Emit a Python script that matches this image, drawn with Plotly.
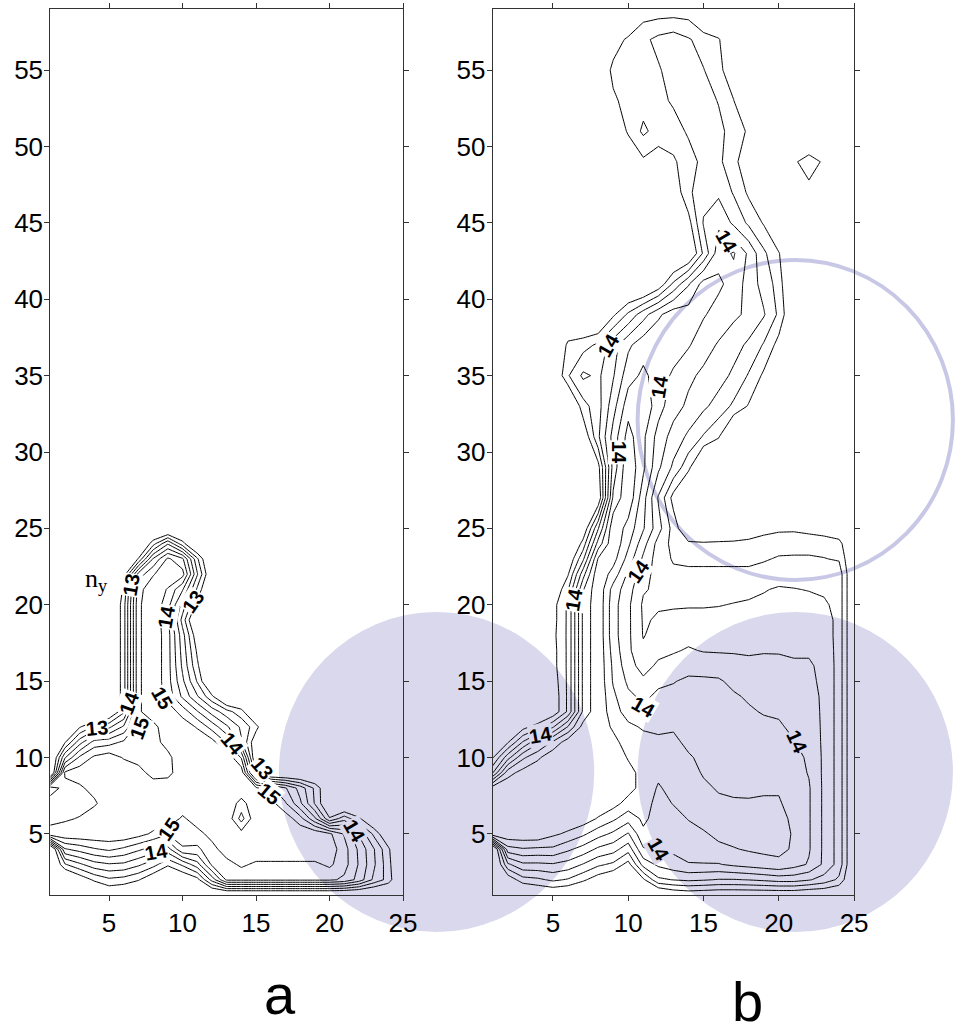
import plotly.graph_objects as go

# ---------------- data ----------------
x_cells = list(range(1, 26))
x_ticks = [5, 10, 15, 20, 25]
y_ticks = [5, 10, 15, 20, 25, 30, 35, 40, 45, 50, 55]
panel_labels = ["a", "b"]
side_label = "n<sub>y</sub>"
level_start, level_end, level_step = 12.0, 15.0, 0.5

# panel a rows (y = 1..26, then 59)
y_a = list(range(1, 27)) + [59]
A01 = [11,11,11,11,11.4,11.3,11,11,11,11,11,11,11,11,11,11,11,11,11,11,11,11,11,11,11]
A02 = [11,11,11.6,12.1,12.4,12.3,12.05,11.5,11.0,11.4,11.8,13.2,14.6,14.6,14.6,14.6,14.6,14.6,14.6,14.6,14.4,13.8,12.9,12.3,11]
A03 = [11,12.45,12.9,13.3,13.45,13.4,13.1,12.7,12.1,12.6,13.3,14.6,14.8,15.1,14.9,14.9,14.9,14.9,14.9,15.1,14.7,13.95,13.1,12.2,11]
A04 = [11,13.95,14.2,14.45,14.6,14.4,14.1,13.8,13.3,14.45,14.4,14.8,15.3,15.4,15.4,15.4,15.4,15.4,15.4,15.3,14.7,13.9,13.05,12.1,11]
A05 = [15.4,15.4,15.4,15.4,15.4,15.4,15.2,14.9,14.55,14.7,14.8,15.2,15.4,15.2,15.4,15.4,15.4,15.4,15.4,15.1,14.45,13.45,12.4,11.4,11]
A06 = [14.7,14.9,15.05,15.4,15.4,15.4,15.4,15.4,15.4,14.9,15.3,15.4,15.4,14.3,15.4,15.4,15.3,14.7,13.6,12.05,12.8,12.1,11.3,11,11]
A07 = [14.7,14.7,14.7,14.9,15.4,15.4,15.4,15.4,15.4,15.4,15.4,15.4,15.4,14.8,15.4,15.2,14.55,13.6,12.45,11.3,11,11,11,11,11]
A08 = [15.3,14.8,14.9,15.2,15.4,15.4,15.4,15.3,15.3,15.4,15.4,15.4,15.4,15.4,15.1,14.6,14.05,13.3,12.4,11.3,11,11,11,11,11]
A09 = [11,15.1,15.3,15.4,15.4,15.4,15.2,14.8,14.85,15.3,15.4,15.4,15.4,15.35,12.2,11,11,11,11,11,11,11,11,11,11]
A10 = [11,13.45,14.6,15.1,15.3,14.95,14.8,14.8,14.85,15.4,15.4,15.4,15.4,14.45,11.3,11,11,11,11,11,11,11,11,11,11]
A11 = [11,11.95,13.3,14.2,14.3,14.6,14.8,14.8,15.2,15.4,15.4,15.2,14.45,13.05,11.5,11,11,11,11,11,11,11,11,11,11]
A12 = [11,11,11.95,12.6,12.9,13.6,14.8,14.8,15.4,15.3,14.95,14.3,13.6,12.9,12.2,11,11,11,11,11,11,11,11,11,11]
A13 = [11,11,11,11,11.3,12.4,14.9,15.4,15.3,14.8,14.05,13.3,12.7,12.2,11,11,11,11,11,11,11,11,11,11,11]
A14 = [11,11,11,11,11,12.3,14.9,15.4,14.8,13.9,13.05,12.1,11,11,11,11,11,11,11,11,11,11,11,11,11]
A15 = [11,11,11,11,11,12.3,14.9,15.4,14.7,13.6,12.45,11,11,11,11,11,11,11,11,11,11,11,11,11,11]
A16 = [11,11,11,11,11,12.3,14.9,15.4,14.7,13.4,12.1,11,11,11,11,11,11,11,11,11,11,11,11,11,11]
A17 = [11,11,11,11,11,12.3,14.9,15.4,14.7,13.3,11.9,11,11,11,11,11,11,11,11,11,11,11,11,11,11]
A18 = [11,11,11,11,11,12.3,14.9,15.4,14.7,13.2,11.6,11,11,11,11,11,11,11,11,11,11,11,11,11,11]
A19 = [11,11,11,11,11,12.3,14.9,15.4,14.6,12.8,11,11,11,11,11,11,11,11,11,11,11,11,11,11,11]
A20 = [11,11,11,11,11,12.3,14.9,15.4,14.7,13.3,11.8,11,11,11,11,11,11,11,11,11,11,11,11,11,11]
A21 = [11,11,11,11,11,12.1,14.8,15.4,14.95,14.05,12.4,11,11,11,11,11,11,11,11,11,11,11,11,11,11]
A22 = [11,11,11,11,11,11.7,14.2,14.95,15.4,15.2,13.05,11.3,11,11,11,11,11,11,11,11,11,11,11,11,11]
A23 = [11,11,11,11,11,11,12.05,14.05,15.1,14.6,12.6,11,11,11,11,11,11,11,11,11,11,11,11,11,11]
A24 = [11,11,11,11,11,11,11,12.3,13.45,12.2,11,11,11,11,11,11,11,11,11,11,11,11,11,11,11]
A25 = [11]*25
A26 = [11]*25
A59 = [11]*25

# panel b rows (y = 1..25, then 27..59 step 2)
y_b = list(range(1, 26)) + list(range(27, 60, 2))
B01 = [11,11,11,11.3,11.4,11.3,11.1,11,11,11,11,11.2,11.5,11.6,11.55,11.5,11.5,11.5,11.5,11.5,11.5,11.4,11.4,11.3,11]
B02 = [11,11.6,12.3,12.4,12.6,12.45,12.1,11.7,11.4,11,11.9,12.9,13.02,13.1,13.05,12.97,12.97,13.02,13.1,13.2,13.2,13.05,12.8,12.4,11.2]
B03 = [11,12.9,13.4,13.4,13.45,13.3,12.97,12.6,12.4,11.8,13.2,13.6,13.8,13.97,13.97,13.97,14.1,14.2,14.3,14.4,14.2,13.95,13.4,12.8,11.3]
B04 = [11,14.3,14.45,14.4,14.4,14.1,13.8,13.4,13.2,12.7,13.95,14.05,14.1,14.2,14.3,14.4,14.47,14.55,14.6,14.6,14.45,14.05,13.4,12.8,11.3]
B05 = [15.4,15.4,15.4,15.4,15.1,14.9,14.6,14.2,13.9,13.45,14.4,14.2,14.2,14.35,14.45,14.6,14.68,14.7,14.7,14.7,14.45,14.05,13.4,12.8,11.3]
B06 = [15.4,15.4,15.4,15.4,15.4,15.4,15.3,14.95,14.6,14.2,14.6,14.3,14.35,14.52,14.65,14.75,14.7,14.65,14.6,14.65,14.4,14.05,13.4,12.8,11.3]
B07 = [15.4,15.4,15.4,15.4,15.4,15.4,15.4,15.4,15.2,14.8,14.7,14.35,14.52,14.7,14.7,14.6,14.55,14.55,14.55,14.55,14.3,14.05,13.4,12.8,11.3]
B08 = [15.3,15.4,15.4,15.4,15.4,15.4,15.4,15.4,15.4,15.2,14.8,14.45,14.65,14.75,14.6,14.45,14.42,14.4,14.45,14.45,14.25,14.05,13.4,12.8,11.3]
B09 = [12.97,14.8,15.2,15.4,15.4,15.4,15.4,15.4,15.4,15.2,14.8,14.6,14.75,14.7,14.45,14.3,14.3,14.3,14.28,14.25,14.2,13.97,13.4,12.8,11.3]
B10 = [11.95,13.3,14.4,14.9,15.4,15.4,15.4,15.4,15.4,14.95,14.75,14.7,14.7,14.55,14.4,14.25,14.25,14.25,14.22,14.2,14.1,13.95,13.4,12.8,11.3]
B11 = [11,11.95,13.05,13.9,14.6,15.3,15.4,15.4,15.2,14.7,14.65,14.6,14.6,14.4,14.3,14.25,14.22,14.2,14.15,14.1,14.02,13.85,13.4,12.8,11.3]
B12 = [11,11,11.8,12.3,12.95,14.05,15.2,15.4,14.9,14.6,14.45,14.4,14.45,14.3,14.28,14.25,14.2,14.15,14.1,14.05,13.92,13.8,13.4,12.8,11.3]
B13 = [11,11,11,11,11.6,12.6,14.6,15.4,14.7,14.3,14.15,14.2,14.25,14.25,14.25,14.22,14.15,14.05,13.97,13.95,13.85,13.75,13.4,12.8,11.3]
B14 = [11,11,11,11,11.6,12.6,14.6,15.4,14.6,14.1,13.9,14.1,14.15,14.2,14.2,14.18,14.05,13.95,13.85,13.8,13.75,13.7,13.4,12.8,11.3]
B15 = [11,11,11,11,11.7,12.6,14.6,15.4,14.45,13.9,13.6,13.9,13.97,14.1,14.08,14.05,13.9,13.8,13.75,13.7,13.65,13.6,13.4,12.8,11.3]
B16 = [11,11,11,11,11.8,12.6,14.6,15.4,14.4,13.7,13.3,13.6,13.7,13.8,13.8,13.8,13.7,13.6,13.62,13.6,13.55,13.55,13.4,12.8,11.3]
B17 = [11,11,11,11,11.8,12.6,14.6,15.4,14.3,13.6,13.1,13.35,13.45,13.55,13.47,13.45,13.45,13.45,13.47,13.47,13.45,13.45,13.35,12.8,11.3]
B18 = [11,11,11,11,11.85,12.6,14.6,15.4,14.2,13.6,12.97,13.2,13.25,13.35,13.3,13.3,13.3,13.3,13.35,13.35,13.35,13.35,13.3,12.8,11.3]
B19 = [11,11,11,11,11.8,12.6,14.6,15.4,14.2,13.6,12.95,13.05,13.1,13.15,13.15,13.15,13.15,13.15,13.2,13.25,13.25,13.25,13.3,12.8,11.3]
B20 = [11,11,11,11,11.8,12.6,14.6,15.4,14.2,13.6,12.92,12.96,12.96,12.96,12.96,12.98,13.02,13.05,13.1,13.15,13.15,13.15,13.1,12.8,11.3]
B21 = [11,11,11,11,11.4,12.45,14.45,15.4,14.3,13.7,13.05,12.9,12.8,12.8,12.8,12.8,12.85,12.9,12.97,13.05,13.02,12.98,12.9,12.8,11.3]
B22 = [11,11,11,11,11,11.95,13.8,15.4,14.8,13.9,13.2,12.8,12.6,12.6,12.6,12.6,12.6,12.6,12.7,12.8,12.8,12.75,12.7,12.8,11.3]
B23 = [11,11,11,11,11,11.5,12.9,15.05,15.2,14.3,13.4,12.75,12.45,12.4,12.4,12.4,12.4,12.4,12.45,12.55,12.55,12.55,12.52,12.45,11.3]
B24 = [11,11,11,11,11,11,12.2,14.2,15.4,14.6,13.7,12.8,12.35,12.1,12.1,12.15,12.2,12.2,12.25,12.3,12.35,12.35,12.3,12.2,11.2]
B25 = [11,11,11,11,11,11,11.5,13.45,15.4,14.8,14.05,13.2,12.3,11.4,11,11,11,11.5,11.8,11.9,11.9,11.8,11.7,11.5,11]
B27 = [11,11,11,11,11,11,11,11.5,14.6,15.4,14.2,12.95,11.8,11,11,11,11,11,11,11,11,11,11,11,11]
B29 = [11,11,11,11,11,11,11,11.8,14.2,15.4,14.6,13.6,12.9,12.15,11,11,11,11,11,11,11,11,11,11,11]
B31 = [11,11,11,11,11,11,11.5,12.9,14.2,15.2,14.6,13.8,13.3,12.9,12.45,12.05,11,11,11,11,11,11,11,11,11]
B33 = [11,11,11,11,11,11,12.3,12.8,13.8,14.8,14.9,14.2,13.7,13.4,13.1,12.8,12.4,11.95,11,11,11,11,11,11,11]
B35 = [11,11,11,11,11.3,12.45,13.1,12.9,13.45,14.3,14.6,14.3,13.9,13.6,13.4,13.2,12.9,12.45,11.9,11,11,11,11,11,11]
B37 = [11,11,11,11,11,12.15,12.3,12.6,13.3,13.9,14.3,14.45,14.3,14.05,13.7,13.45,13.2,12.9,12.45,11.8,11,11,11,11,11]
B39 = [11,11,11,11,11,11,11,11,11.9,12.6,13.3,13.9,14.3,14.25,14.05,13.8,13.6,13.4,13.05,12.4,11.3,11,11,11,11]
B41 = [11,11,11,11,11,11,11,11,11,11,11,11.6,12.6,13.45,14.2,14.1,13.8,13.3,12.8,12.3,11,11,11,11,11]
B43 = [11,11,11,11,11,11,11,11,11,11,11,11,11,11.3,12.6,13.8,14.05,13.4,12.6,12.05,11,11,11,11,11]
B45 = [11,11,11,11,11,11,11,11,11,11,11,11,11,11.8,13.05,13.4,12.9,12.4,11.95,11,11,11,11,11,11]
B47 = [11,11,11,11,11,11,11,11,11,11,11,11,11.6,12.4,12.8,12.9,12.45,11.9,11.3,11,11,11.8,11,11,11]
B49 = [11,11,11,11,11,11,11,11,11,11.3,11.9,11.7,11.9,12.35,12.6,12.6,12.2,11.5,11,11,11.9,12.3,11.9,11,11]
B51 = [11,11,11,11,11,11,11,11,11.3,12.1,12.6,12.3,12.35,12.55,12.7,12.6,12.35,11.9,11,11,11,11,11,11,11]
B53 = [11,11,11,11,11,11,11,11,11.9,12.2,12.3,12.4,12.55,12.7,12.65,12.48,12.02,11,11,11,11,11,11,11,11]
B55 = [11,11,11,11,11,11,11,11.4,12.15,12.3,12.4,12.45,12.7,12.75,12.52,12.2,11.5,11,11,11,11,11,11,11,11]
B57 = [11,11,11,11,11,11,11,11,11.7,12.11,12.39,12.63,12.76,12.55,12.3,12.05,11.4,11,11,11,11,11,11,11,11]
B59 = [11,11,11,11,11,11,11,11,11,11,11.7,11.7,11.7,11.7,11,11,11,11,11,11,11,11,11,11,11]

z_a = [A01, A02, A03, A04, A05, A06, A07, A08, A09, A10, A11, A12, A13,
       A14, A15, A16, A17, A18, A19, A20, A21, A22, A23, A24, A25, A26, A59]
z_b = [B01, B02, B03, B04, B05, B06, B07, B08, B09, B10, B11, B12, B13,
       B14, B15, B16, B17, B18, B19, B20, B21, B22, B23, B24, B25,
       B27, B29, B31, B33, B35, B37, B39, B41, B43, B45, B47, B49,
       B51, B53, B55, B57, B59]

# contour value labels (text of each label)
labels_a_text = ["13", "13", "14", "15", "14", "15", "13", "14", "13", "15", "15", "14", "14"]
labels_b_text = ["14"] * 10

# ---------------- figure ----------------
W, H = 963, 1035
LAV = "rgb(217,216,236)"
SANS = "Liberation Sans, Arial, sans-serif"
fig = go.Figure()

for z, y, xa, ya in [(z_a, y_a, "x", "y"), (z_b, y_b, "x2", "y2")]:
    fig.add_trace(go.Contour(
        x=x_cells, y=y, z=z, xaxis=xa, yaxis=ya,
        contours=dict(start=level_start, end=level_end, size=level_step, coloring="none"),
        line=dict(color="black", width=1, smoothing=0),
        showscale=False, hoverinfo="skip",
    ))

ydom = [1 - 895 / H, 1 - 9 / H]
axis_common = dict(
    showline=True, linecolor="#333", linewidth=1, mirror="allticks",
    ticks="outside", ticklen=5, tickwidth=1, tickcolor="#333",
    showgrid=False, zeroline=False,
    tickfont=dict(family=SANS, size=26, color="black"),
)
fig.update_layout(
    width=W, height=H,
    margin=dict(l=0, r=0, t=0, b=0),
    paper_bgcolor="white", plot_bgcolor="rgba(0,0,0,0)",
    showlegend=False,
    xaxis=dict(domain=[51 / W, 409 / W], range=[1, 25], tickvals=x_ticks, anchor="y", **axis_common),
    yaxis=dict(domain=ydom, range=[1, 59], tickvals=y_ticks, anchor="x", ticklabelstandoff=-4, **axis_common),
    xaxis2=dict(domain=[500 / W, 866.7 / W], range=[1, 25], tickvals=x_ticks, anchor="y2", **axis_common),
    yaxis2=dict(domain=ydom, range=[1, 59], tickvals=y_ticks, anchor="x2", ticklabelstandoff=-4, **axis_common),
)

# decorative circles (paper coordinates)
fig.add_shape(type="circle", xref="paper", yref="paper", layer="below",
              x0=283 / W, x1=603 / W, y0=1 - 932 / H, y1=1 - 612 / H,
              fillcolor=LAV, line=dict(width=0))
fig.add_shape(type="circle", xref="paper", yref="paper", layer="below",
              x0=647 / W, x1=967 / W, y0=1 - 932 / H, y1=1 - 612 / H,
              fillcolor=LAV, line=dict(width=0))
fig.add_shape(type="circle", xref="paper", yref="paper", layer="below",
              x0=647 / W, x1=967 / W, y0=1 - 580 / H, y1=1 - 260 / H,
              fillcolor="rgba(0,0,0,0)", line=dict(color="rgb(200,200,230)", width=4))

# contour labels placed along the lines (position, angle, background behind the text)
label_layout_a = [(6.5, 21.3, -80, "white"), (10.7, 20.2, -55, "white"), (8.9, 19.2, -80, "white"),
                  (8.6, 13.9, 60, "white"), (6.35, 13.6, -70, "white"), (7.1, 11.9, -70, "white"),
                  (4.2, 11.9, -5, "white"), (13.4, 10.9, 50, "white"), (15.4, 9.3, 50, "white"),
                  (15.9, 7.6, 40, "white"), (9.1, 5.3, -55, "white"), (8.2, 3.8, -10, "white"),
                  (21.7, 5.2, 60, LAV)]
label_layout_b = [(16.5, 43.8, 60, "white"), (8.7, 37.0, -60, "white"), (12.1, 34.3, -80, "white"),
                  (9.4, 30.0, 90, "white"), (10.7, 22.2, -55, "white"), (6.4, 20.3, -80, "white"),
                  (11.0, 13.3, 30, "white"), (4.2, 11.5, -10, LAV), (21.2, 11.0, 65, LAV),
                  (12.0, 4.0, 60, LAV)]
for texts, layout_, xr, yr in [(labels_a_text, label_layout_a, "x", "y"),
                               (labels_b_text, label_layout_b, "x2", "y2")]:
    for t, (lx, ly, ang, bg) in zip(texts, layout_):
        fig.add_annotation(text=t, x=lx, y=ly, xref=xr, yref=yr, showarrow=False,
                           textangle=ang, bgcolor=bg, borderpad=0,
                           font=dict(family=SANS, size=20, color="black", weight="bold"))

fig.add_annotation(text=panel_labels[0], xref="paper", yref="paper", x=284 / W, y=1 - 994 / H,
                   showarrow=False, xanchor="center", yanchor="middle",
                   font=dict(family=SANS, size=56, color="black"))
fig.add_annotation(text=panel_labels[1], xref="paper", yref="paper", x=759 / W, y=0,
                   showarrow=False, xanchor="center", yanchor="bottom",
                   font=dict(family=SANS, size=56, color="black"))
fig.add_annotation(text=side_label, xref="paper", yref="paper", x=98 / W, y=1 - 580 / H,
                   showarrow=False, xanchor="center", yanchor="middle",
                   font=dict(family="Liberation Serif, Times New Roman, serif", size=26, color="black"))

fig.write_html("out.html")
